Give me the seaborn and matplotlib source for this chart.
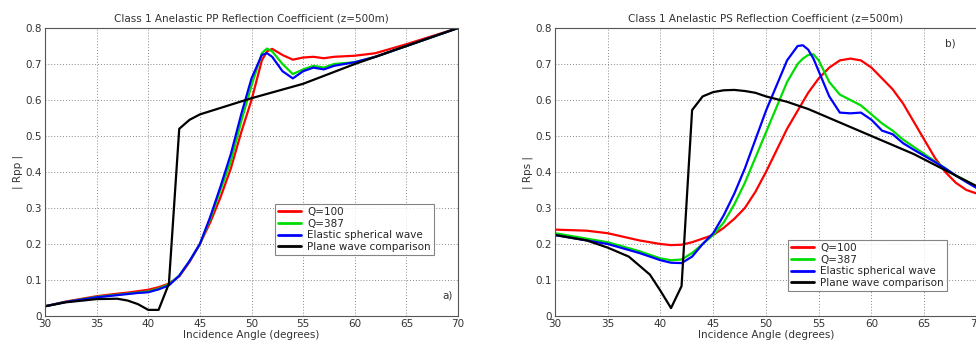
#!/usr/bin/env python3
import pandas as pd
import matplotlib
matplotlib.use("Agg")
import matplotlib.pyplot as plt
import seaborn as sns

# --- PP reflection coefficient (panel a) ---
pp_angle = [30, 32, 35, 37, 38, 39, 40, 41, 42, 43, 44, 45, 46, 47, 48, 49, 50, 51, 51.5, 52,
            53, 54, 55, 56, 57, 58, 60, 62, 65, 70]
pp_q100 = [0.027, 0.040, 0.055, 0.062, 0.065, 0.069, 0.073, 0.080, 0.090, 0.110, 0.150, 0.200,
           0.260, 0.330, 0.410, 0.510, 0.600, 0.710, 0.735, 0.742, 0.725, 0.712, 0.718, 0.720,
           0.716, 0.720, 0.723, 0.730, 0.755, 0.800]
pp_q387 = [0.027, 0.039, 0.053, 0.059, 0.062, 0.065, 0.068, 0.076, 0.088, 0.112, 0.152, 0.200,
           0.270, 0.350, 0.430, 0.540, 0.640, 0.730, 0.743, 0.735, 0.700, 0.672, 0.685, 0.695,
           0.690, 0.700, 0.705, 0.720, 0.750, 0.800]
pp_elastic = [0.027, 0.039, 0.052, 0.058, 0.061, 0.064, 0.066, 0.074, 0.085, 0.112, 0.153, 0.200,
              0.275, 0.360, 0.450, 0.560, 0.660, 0.725, 0.730, 0.720, 0.680, 0.660, 0.680, 0.690,
              0.685, 0.695, 0.705, 0.720, 0.750, 0.800]
pp_plane_angle = [30, 32, 35, 37, 38, 39, 40, 41, 42, 43, 44, 45, 50, 55, 60, 65, 70]
pp_plane = [0.027, 0.038, 0.047, 0.048, 0.043, 0.033, 0.017, 0.017, 0.090, 0.520, 0.545, 0.560,
            0.605, 0.645, 0.700, 0.750, 0.800]

# --- PS reflection coefficient (panel b) ---
ps_angle = [30, 33, 35, 38, 40, 41, 42, 43, 44, 45, 46, 47, 48, 49, 50, 51, 52, 53, 53.5, 54,
            54.5, 55, 56, 57, 58, 59, 60, 61, 62, 63, 64, 65, 66, 67, 68, 69, 70]
ps_q100 = [0.240, 0.237, 0.230, 0.210, 0.200, 0.197, 0.198, 0.205, 0.215, 0.225, 0.245, 0.270,
           0.300, 0.345, 0.400, 0.460, 0.520, 0.570, 0.595, 0.620, 0.640, 0.660, 0.690, 0.710,
           0.715, 0.710, 0.690, 0.660, 0.630, 0.590, 0.540, 0.490, 0.440, 0.400, 0.370, 0.350,
           0.340]
ps_q387 = [0.230, 0.215, 0.205, 0.180, 0.160, 0.155, 0.157, 0.175, 0.200, 0.225, 0.260, 0.310,
           0.370, 0.440, 0.510, 0.580, 0.650, 0.700, 0.715, 0.725, 0.727, 0.710, 0.650, 0.615,
           0.600, 0.585, 0.560, 0.535, 0.515, 0.490, 0.470, 0.450, 0.430, 0.410, 0.390, 0.375,
           0.360]
ps_elastic = [0.225, 0.210, 0.200, 0.175, 0.155, 0.148, 0.147, 0.165, 0.200, 0.230, 0.280, 0.340,
              0.410, 0.490, 0.570, 0.640, 0.710, 0.750, 0.752, 0.740, 0.715, 0.680, 0.610, 0.565,
              0.563, 0.565, 0.545, 0.515, 0.505, 0.480, 0.462, 0.445, 0.428, 0.410, 0.390, 0.372,
              0.355]
ps_plane_angle = [30, 33, 35, 37, 38, 39, 40, 41, 42, 43, 44, 45, 46, 47, 48, 49, 50, 52, 54, 56,
                  58, 60, 62, 64, 66, 68, 70]
ps_plane = [0.225, 0.210, 0.190, 0.165, 0.140, 0.115, 0.070, 0.022, 0.083, 0.572, 0.610, 0.622,
            0.627, 0.628, 0.625, 0.620, 0.610, 0.595, 0.575, 0.550, 0.525, 0.500, 0.475, 0.450,
            0.420, 0.390, 0.360]

series_names = ["Q=100", "Q=387", "Elastic spherical wave", "Plane wave comparison"]
colors = ["#ff0000", "#00dd00", "#0000ff", "#000000"]


def long_frame(angle, q100, q387, elastic, plane_angle, plane):
    parts = []
    for name, x, y in zip(series_names,
                          [angle, angle, angle, plane_angle],
                          [q100, q387, elastic, plane]):
        parts.append(pd.DataFrame({"angle": x, "value": y, "series": name}))
    return pd.concat(parts, ignore_index=True)


sns.set_style("whitegrid")
plt.rcParams["font.family"] = ["DejaVu Sans"]

fig = plt.figure(figsize=(9.76, 3.47), dpi=100)
ax_pp = fig.add_axes([0.0461, 0.0893, 0.4232, 0.830])
ax_ps = fig.add_axes([0.5686, 0.0893, 0.4324, 0.830])

panels = [
    (ax_pp, long_frame(pp_angle, pp_q100, pp_q387, pp_elastic, pp_plane_angle, pp_plane),
     "Class 1 Anelastic PP Reflection Coefficient (z=500m)", "| Rpp |", "a)", (68.5, 0.05),
     (0.557, 0.212)),
    (ax_ps, long_frame(ps_angle, ps_q100, ps_q387, ps_elastic, ps_plane_angle, ps_plane),
     "Class 1 Anelastic PS Reflection Coefficient (z=500m)", "| Rps |", "b)", (67.0, 0.75),
     (0.552, 0.087)),
]

for ax, df, title, ylabel, tag, tag_xy, leg_anchor in panels:
    sns.lineplot(data=df, x="angle", y="value", hue="series", hue_order=series_names,
                 palette=colors, linewidth=1.6, sort=False, estimator=None, ax=ax)
    ax.set_xlim(30, 70)
    ax.set_ylim(0, 0.8)
    ax.set_xticks(range(30, 71, 5))
    ax.set_yticks([i / 10 for i in range(9)])
    ax.set_yticklabels(["0"] + [f"{i / 10:.1f}" for i in range(1, 9)])
    ax.grid(True, color="#888888", linestyle=(0, (1, 2)), linewidth=0.7)
    for spine in ax.spines.values():
        spine.set_color("#555555")
        spine.set_linewidth(0.8)
    ax.tick_params(labelsize=7.5, colors="#333333", length=0, pad=2)
    ax.set_title(title, fontsize=7.5, color="#333333", pad=5)
    ax.set_xlabel("Incidence Angle (degrees)", fontsize=7.5, color="#333333", labelpad=1)
    ax.set_ylabel(ylabel, fontsize=7.5, color="#333333", labelpad=2)
    ax.text(tag_xy[0], tag_xy[1], tag, fontsize=7.5, color="#333333")
    leg = ax.legend(loc="lower left", bbox_to_anchor=leg_anchor, fontsize=7.5, frameon=True,
                    fancybox=False, handlelength=2.2, borderpad=0.3, labelspacing=0.15,
                    handletextpad=0.6, borderaxespad=0)
    leg.get_frame().set_edgecolor("#666666")
    leg.get_frame().set_linewidth(0.8)
    for line in leg.get_lines():
        line.set_linewidth(2)

fig.savefig("out.png", dpi=100)
